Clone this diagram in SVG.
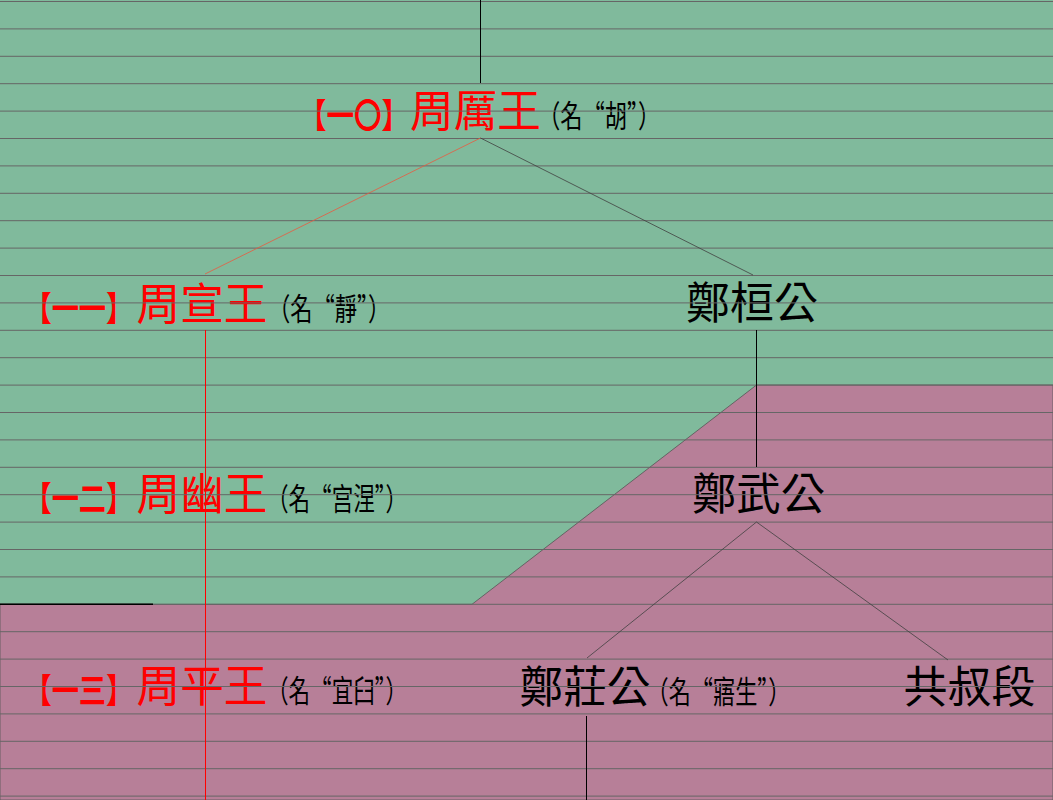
<svg xmlns="http://www.w3.org/2000/svg" width="1053" height="800" viewBox="0 0 1053 800">
<style>
.big{font-family:"Noto Sans CJK TC","Noto Sans CJK SC",sans-serif;font-size:44px}
.red{fill:#ff0000}
.blk{fill:#000000}
.tag{font-family:"Noto Sans CJK TC","Noto Sans CJK SC",sans-serif;font-size:34px;font-weight:bold;fill:#ff0000}
.nm{font-family:"Noto Sans CJK TC","Noto Sans CJK SC",sans-serif;font-size:31px;fill:#000000}
.grid{stroke:#666666;stroke-width:1;fill:none}
.ln{stroke:#000000;stroke-width:1;fill:none}
.lg{stroke:#404040;stroke-width:0.8;fill:none}
.lr{stroke:#ff0000;stroke-width:1;fill:none}
.lo{stroke:#e85a40;stroke-width:0.8;fill:none}
</style>
<g id="background">
<rect x="0" y="0" width="1053" height="800" fill="#80ba9c"/>
<polygon points="0,604.3 472,604.3 756.5,385 1053,385 1053,800 0,800" fill="#b77f98" stroke="#555555" stroke-width="0.8"/>
</g>
<g id="n10"><text class="tag" transform="translate(299,128) scale(0.81,1)">【一〇】</text><text class="big red" x="410" y="127" textLength="131" lengthAdjust="spacingAndGlyphs">周厲王</text><text class="nm" transform="translate(538,127) scale(0.718,1)">（名“胡”）</text></g>
<g id="n11"><text class="tag" transform="translate(24.5,321) scale(0.8,1)">【一一】</text><text class="big red" x="136.5" y="320" textLength="131" lengthAdjust="spacingAndGlyphs">周宣王</text><text class="nm" transform="translate(268,320) scale(0.718,1)">（名“靜”）</text></g>
<g id="n12"><text class="tag" transform="translate(24.5,511) scale(0.8,1)">【一二】</text><text class="big red" x="136.5" y="510" textLength="131" lengthAdjust="spacingAndGlyphs">周幽王</text><text class="nm" transform="translate(267,510) scale(0.696,1)">（名“宫涅”）</text></g>
<g id="n13"><text class="tag" transform="translate(24.5,703) scale(0.8,1)">【一三】</text><text class="big red" x="136.5" y="702" textLength="131" lengthAdjust="spacingAndGlyphs">周平王</text><text class="nm" transform="translate(267,702) scale(0.696,1)">（名“宜臼”）</text></g>
<g id="zheng-huan"><text class="big blk" x="686" y="318.5" textLength="132" lengthAdjust="spacingAndGlyphs">鄭桓公</text></g>
<g id="zheng-wu"><text class="big blk" x="692" y="510" textLength="133" lengthAdjust="spacingAndGlyphs">鄭武公</text></g>
<g id="zheng-zhuang"><text class="big blk" x="519.5" y="703" textLength="131" lengthAdjust="spacingAndGlyphs">鄭莊公</text><text class="nm" transform="translate(646.5,703) scale(0.715,1)">（名“寤生”）</text></g>
<g id="gong-shu-duan"><text class="big blk" x="903.5" y="703" textLength="132" lengthAdjust="spacingAndGlyphs">共叔段</text></g>
<g id="grid">
<path class="grid" d="M0 1.5H1053M0 28.9H1053M0 56.3H1053M0 83.7H1053M0 111.1H1053M0 138.5H1053M0 165.9H1053M0 193.3H1053M0 220.7H1053M0 248.1H1053M0 275.5H1053M0 302.9H1053M0 330.3H1053M0 357.7H1053M0 385.1H1053M0 412.5H1053M0 439.9H1053M0 467.3H1053M0 494.7H1053M0 522.1H1053M0 549.5H1053M0 576.9H1053M0 604.3H1053M0 631.7H1053M0 659.1H1053M0 686.5H1053M0 713.9H1053M0 741.3H1053M0 768.7H1053M0 796.1H1053"/>
<line x1="0" y1="604.3" x2="153" y2="604.3" stroke="#000000" stroke-width="1.5"/>
</g>
<g id="connectors">
<line class="ln" x1="480.5" y1="0" x2="480.5" y2="83"/>
<line class="lo" x1="480.5" y1="138" x2="205" y2="274"/>
<line class="lg" x1="480.5" y1="138" x2="753" y2="275"/>
<line class="lr" x1="205.5" y1="330" x2="205.5" y2="800"/>
<line class="ln" x1="756.5" y1="330" x2="756.5" y2="467"/>
<line class="lg" x1="756.5" y1="522" x2="587" y2="658"/>
<line class="lg" x1="756.5" y1="522" x2="948" y2="660"/>
<line class="ln" x1="586.5" y1="716" x2="586.5" y2="800"/>
</g>
</svg>
